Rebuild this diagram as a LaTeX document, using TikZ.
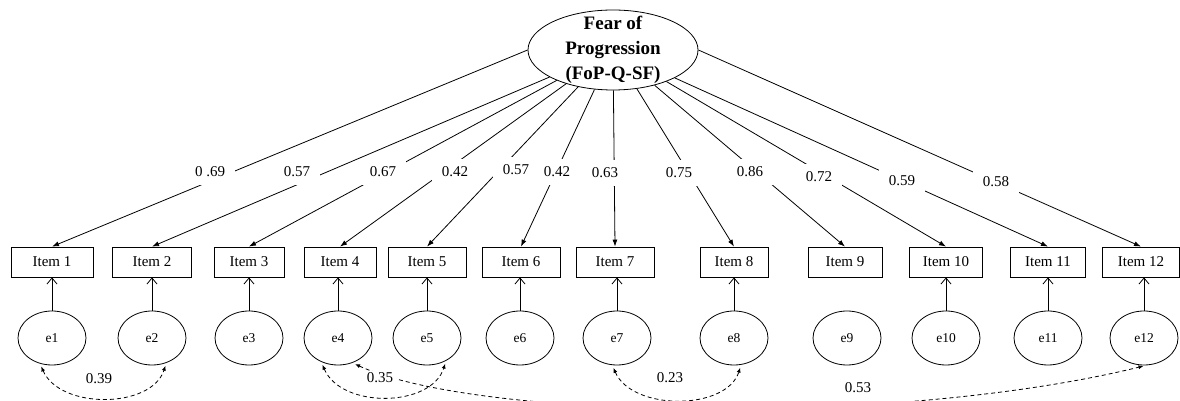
\documentclass[tikz,border=0pt]{standalone}
\usepackage{fontspec}
\setmainfont{Liberation Serif}
\usetikzlibrary{arrows.meta,shapes.geometric}

\tikzset{
  item/.style={draw, line width=0.8pt, minimum height=30pt, inner sep=0pt,
    font=\fontsize{15}{17}\selectfont},
  err/.style={draw, ellipse, line width=0.8pt, minimum width=68pt,
    minimum height=54pt, inner sep=0pt, font=\fontsize{13.5}{15}\selectfont},
  load/.style={line width=0.8pt, -{Latex[length=7pt,width=5pt]}},
  res/.style={line width=0.8pt, -{Straight Barb[length=6pt,width=10pt]}},
  cov/.style={line width=0.8pt, dash pattern=on 4pt off 3pt,
    {Latex[length=5pt,width=4pt]}-{Latex[length=5pt,width=4pt]},
    shorten <=3pt, shorten >=3pt},
  lbl/.style={fill=white, inner xsep=10pt, inner ysep=8pt,
    font=\fontsize{15}{17}\selectfont},
  clbl/.style={fill=white, inner xsep=4pt, inner ysep=2pt,
    font=\fontsize{15}{17}\selectfont},
}

\begin{document}
\begin{tikzpicture}[x=1pt, y=1pt]
  \useasboundingbox (0,0) rectangle (1180,401);
  % latent factor
  \node[draw, ellipse, line width=0.8pt, minimum width=170pt,
    minimum height=80pt, inner sep=0pt] (fop) at (613,351) {};
  \node[font=\bfseries\fontsize{19}{25}\selectfont, align=center]
    (fopt) at (613,351) {Fear of\\Progression\\(FoP-Q-SF)};
  % items and errors
  \foreach \i/\x/\w/\ex in {1/52/82/52, 2/152/79/152, 3/249/70/249,
      4/340/72/338, 5/427/78/427, 6/521/78/520, 7/615/78/617,
      8/734/68/734, 9/845/74/847, 10/946/73/946, 11/1048/75/1048,
      12/1141/77/1144} {
    \node[item, minimum width=\w pt] (i\i) at (\x,139) {Item \i};
    \node[err] (e\i) at (\ex,63) {e\i};
  }
  % loadings
  \draw[load] (fop.west) -- (i1.north);
  \foreach \i in {2,...,11}
    \draw[load] (fop) -- (i\i.north);
  \draw[load] (fop.east) -- (i12.north);
  \foreach \n/\x/\y/\t in {1/210/229/0 .69, 2/297/229/0.57, 3/383/229/0.67,
      4/455/229/0.42, 5/516/231/0.57, 6/557/229/0.42, 7/605/228/0.63,
      8/679/228/0.75, 9/750/229/0.86, 10/819/224/0.72, 11/902/220/0.59,
      12/996/219/0.58}
    \node[lbl] (l\n) at (\x,\y) {\t};
  % residuals
  \foreach \i in {1,...,8,10,11,12}
    \draw[res] (e\i.north) -- (e\i.north |- i\i.south);
  % error covariances
  \draw[cov] (e1.245) .. controls +(20,-46) and +(-15,-46) .. (e2.300);
  \draw[cov] (e4.235) .. controls +(20,-47) and +(-15,-47) .. (e5.310);
  \draw[cov] (e7.260) .. controls +(20,-46) and +(-15,-46) .. (e8.285);
  \draw[cov] (e4.300) .. controls (480,-20) and (900,-25) .. (e12.275);
  \node[clbl] (c1) at (99,22) {0.39};
  \node[clbl] (c2) at (380,23) {0.35};
  \node[clbl] (c3) at (670,23) {0.23};
  \node[clbl] (c4) at (858,13) {0.53};
\end{tikzpicture}
\end{document}
